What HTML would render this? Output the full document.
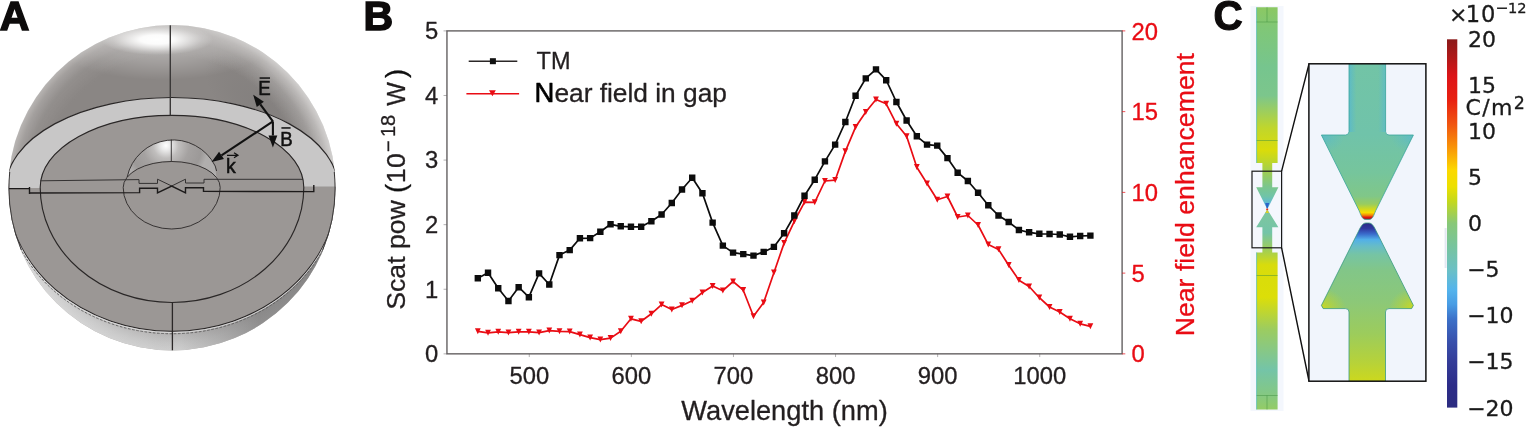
<!DOCTYPE html>
<html lang="en">
<head>
<meta charset="utf-8">
<title>Figure: nanoantenna scattering and near field</title>
<style>
html,body{margin:0;padding:0;background:#fff;}
body{width:1528px;height:427px;overflow:hidden;font-family:"Liberation Sans",sans-serif;}
svg{display:block;position:absolute;left:0;top:0;}
text{font-family:"Liberation Sans",sans-serif;}
.dj{font-family:"DejaVu Sans","Liberation Sans",sans-serif;}
.pl{font-weight:bold;font-size:41px;fill:#0d0b0b;stroke:#0d0b0b;stroke-width:1.5px;stroke-linejoin:miter;}
.tk{font-size:23.8px;fill:#231f20;}
#panelB text{stroke-width:0.3px;stroke-linejoin:round;}
#panelB text.k{stroke:#231f20;}
#panelB text.r{stroke:#e90c14;}
.tr{font-size:23.8px;fill:#e90c14;}
.cb{font-size:22px;fill:#1a1a1a;}
</style>
</head>
<body>
<svg width="1528" height="427" viewBox="0 0 1528 427">
<defs>
<radialGradient id="dome" gradientUnits="userSpaceOnUse" cx="172" cy="187.8" r="163.2">
<stop offset="0" stop-color="#8a8684"/>
<stop offset="0.8" stop-color="#8a8684"/>
<stop offset="0.9" stop-color="#8e8a88"/>
<stop offset="0.96" stop-color="#9c9896"/>
<stop offset="1" stop-color="#b0adab"/>
</radialGradient>
<radialGradient id="hl" cx="0.5" cy="0.5" r="0.5">
<stop offset="0" stop-color="#fff" stop-opacity="1"/>
<stop offset="0.3" stop-color="#fff" stop-opacity="0.95"/>
<stop offset="0.55" stop-color="#fff" stop-opacity="0.6"/>
<stop offset="0.8" stop-color="#fff" stop-opacity="0.22"/>
<stop offset="1" stop-color="#fff" stop-opacity="0"/>
</radialGradient>
<radialGradient id="rl" gradientUnits="userSpaceOnUse" cx="172" cy="187.8" r="163.2">
<stop offset="0.8" stop-color="#fff" stop-opacity="0"/>
<stop offset="0.9" stop-color="#fff" stop-opacity="0.17"/>
<stop offset="1" stop-color="#fff" stop-opacity="0.42"/>
</radialGradient>
<linearGradient id="rlm" gradientUnits="userSpaceOnUse" x1="150" y1="0" x2="270" y2="0">
<stop offset="0" stop-color="#fff" stop-opacity="0.25"/>
<stop offset="1" stop-color="#fff" stop-opacity="1"/>
</linearGradient>
<mask id="rlmask" maskUnits="userSpaceOnUse" x="0" y="0" width="345" height="190"><rect x="0" y="0" width="345" height="190" fill="url(#rlm)"/></mask>
<radialGradient id="hl2" cx="0.5" cy="0.5" r="0.5">
<stop offset="0" stop-color="#fff" stop-opacity="0.38"/>
<stop offset="0.5" stop-color="#fff" stop-opacity="0.2"/>
<stop offset="1" stop-color="#fff" stop-opacity="0"/>
</radialGradient>
<radialGradient id="dk" cx="0.5" cy="0.5" r="0.5">
<stop offset="0" stop-color="#6c6a6a" stop-opacity="0.3"/>
<stop offset="0.5" stop-color="#6c6a6a" stop-opacity="0.18"/>
<stop offset="1" stop-color="#6c6a6a" stop-opacity="0"/>
</radialGradient>
<radialGradient id="sdome" gradientUnits="userSpaceOnUse" cx="166" cy="145.5" r="42">
<stop offset="0" stop-color="#ffffff"/>
<stop offset="0.12" stop-color="#e9e9e9"/>
<stop offset="0.3" stop-color="#c0bebd"/>
<stop offset="0.55" stop-color="#a5a2a1"/>
<stop offset="0.85" stop-color="#9c9998"/>
<stop offset="1" stop-color="#b0aead"/>
</radialGradient>
<radialGradient id="rim" gradientUnits="userSpaceOnUse" cx="172" cy="187.8" r="163.4">
<stop offset="0" stop-color="#9a9898"/>
<stop offset="0.86" stop-color="#adabab"/>
<stop offset="0.9" stop-color="#b8b7b7"/>
<stop offset="0.95" stop-color="#c5c5c5"/>
<stop offset="1" stop-color="#cfcfcf"/>
</radialGradient>
<linearGradient id="rimlr" x1="0" y1="0" x2="1" y2="0">
<stop offset="0" stop-color="#fff" stop-opacity="0.22"/>
<stop offset="0.42" stop-color="#fff" stop-opacity="0.04"/>
<stop offset="0.52" stop-color="#5a5858" stop-opacity="0"/>
<stop offset="0.64" stop-color="#5a5858" stop-opacity="0.25"/>
<stop offset="0.75" stop-color="#545252" stop-opacity="0.5"/>
<stop offset="1" stop-color="#504e4e" stop-opacity="0.6"/>
</linearGradient>
<clipPath id="sph"><ellipse cx="172" cy="187.8" rx="163.6" ry="162.7"/></clipPath>
<clipPath id="upper"><rect x="0" y="0" width="345" height="188"/></clipPath>
<linearGradient id="cbar" x1="0" y1="0" x2="0" y2="1">
<stop offset="0" stop-color="#8a1a1a"/>
<stop offset="0.05" stop-color="#b01818"/>
<stop offset="0.1" stop-color="#dc1418"/>
<stop offset="0.165" stop-color="#e82010"/>
<stop offset="0.23" stop-color="#f05410"/>
<stop offset="0.29" stop-color="#f89008"/>
<stop offset="0.355" stop-color="#fcd800"/>
<stop offset="0.4" stop-color="#ece000"/>
<stop offset="0.44" stop-color="#c4d81c"/>
<stop offset="0.5" stop-color="#88c878"/>
<stop offset="0.56" stop-color="#78c49c"/>
<stop offset="0.625" stop-color="#6cc0c4"/>
<stop offset="0.68" stop-color="#54b4ec"/>
<stop offset="0.72" stop-color="#489ce4"/>
<stop offset="0.76" stop-color="#3c70c8"/>
<stop offset="0.82" stop-color="#3850ac"/>
<stop offset="0.875" stop-color="#343c98"/>
<stop offset="0.94" stop-color="#2c2c88"/>
<stop offset="1" stop-color="#2c2c80"/>
</linearGradient>
<linearGradient id="strip" x1="0" y1="7" x2="0" y2="410" gradientUnits="userSpaceOnUse">
<stop offset="0" stop-color="#8cc862"/>
<stop offset="0.05" stop-color="#80c776"/>
<stop offset="0.15" stop-color="#76c58e"/>
<stop offset="0.22" stop-color="#7cc68c"/>
<stop offset="0.3" stop-color="#c0d62c"/>
<stop offset="0.355" stop-color="#dadc0a"/>
<stop offset="0.385" stop-color="#bcd62c"/>
<stop offset="0.415" stop-color="#98cc5c"/>
<stop offset="0.445" stop-color="#7cc68c"/>
<stop offset="0.47" stop-color="#70c4a8"/>
<stop offset="0.49" stop-color="#5cb6dc"/>
<stop offset="0.515" stop-color="#7cc6a0"/>
<stop offset="0.56" stop-color="#74c4a8"/>
<stop offset="0.6" stop-color="#9ccd5c"/>
<stop offset="0.64" stop-color="#d8dc0c"/>
<stop offset="0.72" stop-color="#dcde08"/>
<stop offset="0.8" stop-color="#9ccc60"/>
<stop offset="0.9" stop-color="#74c4a8"/>
<stop offset="0.96" stop-color="#84c884"/>
<stop offset="1" stop-color="#94cc64"/>
</linearGradient>
<linearGradient id="itop" x1="0" y1="64" x2="0" y2="219.6" gradientUnits="userSpaceOnUse">
<stop offset="0" stop-color="#72c4a6"/>
<stop offset="0.45" stop-color="#70c3aa"/>
<stop offset="0.7" stop-color="#76c59c"/>
<stop offset="0.85" stop-color="#80c788"/>
<stop offset="0.9" stop-color="#98cc60"/>
<stop offset="0.93" stop-color="#ccd824"/>
<stop offset="0.955" stop-color="#f8de00"/>
<stop offset="0.972" stop-color="#f08808"/>
<stop offset="0.985" stop-color="#e21814"/>
<stop offset="1" stop-color="#901818"/>
</linearGradient>
<linearGradient id="ibot" x1="0" y1="223" x2="0" y2="381" gradientUnits="userSpaceOnUse">
<stop offset="0" stop-color="#2a2a86"/>
<stop offset="0.035" stop-color="#3038a0"/>
<stop offset="0.07" stop-color="#3a6ccc"/>
<stop offset="0.105" stop-color="#52b0e8"/>
<stop offset="0.145" stop-color="#66bcc8"/>
<stop offset="0.2" stop-color="#76c4a4"/>
<stop offset="0.3" stop-color="#82c688"/>
<stop offset="0.5" stop-color="#8cc878"/>
<stop offset="0.7" stop-color="#9ccc5c"/>
<stop offset="0.88" stop-color="#b6d23a"/>
<stop offset="1" stop-color="#ccd81e"/>
</linearGradient>
<linearGradient id="iedge" x1="1349" y1="0" x2="1385.6" y2="0" gradientUnits="userSpaceOnUse">
<stop offset="0" stop-color="#4cb4e0" stop-opacity="0.55"/>
<stop offset="0.2" stop-color="#4cb4e0" stop-opacity="0"/>
<stop offset="0.8" stop-color="#4cb4e0" stop-opacity="0"/>
<stop offset="1" stop-color="#4cb4e0" stop-opacity="0.45"/>
</linearGradient>
<radialGradient id="bcorn" cx="0.5" cy="0.5" r="0.5">
<stop offset="0" stop-color="#4cb4e0" stop-opacity="0.45"/>
<stop offset="0.5" stop-color="#4cb4e0" stop-opacity="0.2"/>
<stop offset="1" stop-color="#4cb4e0" stop-opacity="0"/>
</radialGradient>
<radialGradient id="ycorn" cx="0.5" cy="0.5" r="0.5">
<stop offset="0" stop-color="#d8dc10" stop-opacity="0.9"/>
<stop offset="0.5" stop-color="#c8d820" stop-opacity="0.45"/>
<stop offset="1" stop-color="#c8d820" stop-opacity="0"/>
</radialGradient>
<clipPath id="atop"><path d="M1349,60 H1385.6 V131.5 Q1385.5,135 1389,135 H1413.4 L1375.8,210.5 C1373.8,215 1372.8,219.4 1369.3,219.4 H1365.5 C1362,219.4 1361,215 1359,210.5 L1321.4,135 H1345.5 Q1349,135 1349,131.5 Z"/></clipPath>
<clipPath id="abot"><path d="M1368.8,223 C1372.3,223 1374.3,227 1376.7,232.1 L1413.4,305.4 L1411.6,308.6 H1389 Q1385.5,308.6 1385.5,312 V385 H1349 V312 Q1349,308.6 1345.5,308.6 H1323.2 L1321.4,305.4 L1358.1,232.1 C1360.5,227 1362.5,223 1366,223 Z"/></clipPath>
<clipPath id="inset"><rect x="1309.3" y="64" width="116.4" height="317"/></clipPath>
</defs>
<text class="pl" x="-0.2" y="30">A</text>
<g id="panelA">
<ellipse cx="172" cy="187.8" rx="163.6" ry="162.7" fill="url(#dome)"/>
<g clip-path="url(#sph)">
<ellipse cx="162" cy="46" rx="105" ry="34" fill="url(#hl2)"/>
<ellipse cx="262" cy="105" rx="70" ry="32" fill="url(#dk)" transform="rotate(40 262 105)" opacity="0.7"/>
<rect x="0" y="0" width="345" height="188" fill="url(#rl)" mask="url(#rlmask)"/>
<ellipse cx="157" cy="39.5" rx="56" ry="15.5" fill="url(#hl)"/>
<rect x="0" y="187" width="345" height="170" fill="url(#rim)"/>
<rect x="0" y="187" width="345" height="170" fill="url(#rimlr)"/>
<path d="M6.5,187.5 A165.5,90.2 0 0 1 337.5,187.5 A165.5,143.8 0 0 1 6.5,187.5 Z" fill="#9b9795"/>
<path fill-rule="evenodd" fill="#c8c7c7" d="M6,188 A166,90 0 0 1 338,186.5 L303.8,186.5 A131.8,72.2 0 0 0 40.2,188 Z"/>
</g>
<g fill="none" stroke="#2a2727" stroke-width="1.15" clip-path="url(#sph)">
<path d="M6,187.5 A166,90 0 0 1 338,187.5"/>
<path d="M6.5,187.5 A165.5,143.8 0 0 0 337.5,187.5" stroke-width="1.1"/>
<path d="M5.8,187.5 A166.2,145.1 0 0 0 338.2,187.5" stroke-width="0.9" stroke="#dcdcdc"/>
<path d="M5.2,187.5 A166.8,146.3 0 0 0 338.8,187.5" stroke-width="0.9" stroke="#5e5c5c" stroke-dasharray="2.6 1.6"/>
<path d="M40.2,187.5 A131.8,72.2 0 0 1 303.8,187.5 A131.8,115 0 0 1 40.2,187.5 Z"/>
<path d="M170.3,25.3 V115.3" stroke-width="1.4" stroke="#3a3838"/>
<path d="M9.6,172 A163.2,162.3 0 0 0 21.2,250 M334.4,172 A163.2,162.3 0 0 1 322.8,250" stroke-width="1.3" stroke="#3a3838"/>
<path d="M172.4,302.5 V350.4" stroke-width="1.3"/>
</g>
<path d="M127.2,177 A47,47 0 0 1 215.2,166 L216.3,177 A48.5,26 0 0 0 127.2,177 Z" fill="url(#sdome)"/>
<g fill="none" stroke="#2a2727" stroke-width="0.9">
<path d="M127.2,177 A47,47 0 0 1 215.2,166 L216.6,171"/>
<path d="M123.2,187.5 A48.5,26 0 0 1 220.2,187.5 A48.5,41.5 0 0 1 123.2,187.5 Z"/>
<path d="M171.3,139.5 V161.6"/>
<path stroke-width="1" stroke="#343232" d="M40.5,180.8 L139,179.6 V183.4 H157.5 V179.2 L171.7,186 L185.5,179.2 V183 H204 V179.3 L303,179.3"/>
<path stroke-width="1.4" stroke="#1c1a1a" d="M9,188.6 H29.5 M29.5,187 V194 M29.5,193 L139.6,192.6 V188.2 H157.5 V192.9 L171.7,186 L185.5,192.9 V187.8 H203.5 V191.3 L314,191.6 M313.8,185 V192.3"/>
</g>
<g stroke="#111" stroke-width="2.1" fill="#111">
<path d="M272.9,121.4 L260.32,104.36" fill="none"/><path stroke="none" d="M253.2,94.7 L263.87,101.74 L256.78,106.97 Z"/>
<path d="M272.9,121.4 L272.9,135.5" fill="none"/><path stroke="none" d="M272.9,147.5 L268.5,135.5 L277.3,135.5 Z"/>
<path d="M272.9,121.4 L221.51,155.38" fill="none"/><path stroke="none" d="M211.5,162 L219.08,151.71 L223.94,159.05 Z"/>
</g>
<g fill="#111" font-size="21px" stroke="#111" stroke-width="0.55">
<text transform="translate(258.2,95.4) scale(0.89,1)">E</text><rect x="259.6" y="77.3" width="10.4" height="1.5" stroke="none"/>
<text transform="translate(280.2,145.6) scale(0.89,1)">B</text><rect x="281.4" y="127.2" width="9.2" height="1.5" stroke="none"/>
<text transform="translate(226,172.8) scale(0.93,1)">k</text><path d="M227,155.3 H237.5 M234,152.8 L238,155.3 L234,157.8" stroke="#111" stroke-width="1.2" fill="none"/>
</g>
</g>
<text class="pl" x="363.4" y="30">B</text>
<g id="panelB">
<rect x="446.95" y="30.9" width="675.15" height="322.95" fill="none" stroke="#5f5b5c" stroke-width="1.35"/>
<path d="M446.95,30.9 h-3.4 M446.95,95.49 h-3.4 M446.95,160.08 h-3.4 M446.95,224.67 h-3.4 M446.95,289.26 h-3.4 M446.95,353.85 h-3.4 M529.27,353.85 v3.2 M631.36,353.85 v3.2 M733.46,353.85 v3.2 M835.55,353.85 v3.2 M937.65,353.85 v3.2 M1039.74,353.85 v3.2" stroke="#5f5b5c" stroke-width="0.8" fill="none" opacity="0.6"/>
<path d="M1122.1,30.9 h3.2 M1122.1,111.64 h3.2 M1122.1,192.38 h3.2 M1122.1,273.11 h3.2 M1122.1,353.85 h3.2" stroke="#e90c14" stroke-width="1" fill="none" opacity="0.7"/>
<text class="tk k" text-anchor="end" x="438.2" y="39.3">5</text>
<text class="tk k" text-anchor="end" x="438.2" y="103.89">4</text>
<text class="tk k" text-anchor="end" x="438.2" y="168.48">3</text>
<text class="tk k" text-anchor="end" x="438.2" y="233.07">2</text>
<text class="tk k" text-anchor="end" x="438.2" y="297.66">1</text>
<text class="tk k" text-anchor="end" x="438.2" y="362.25">0</text>
<text class="tk k" text-anchor="middle" x="529.27" y="384.3">500</text>
<text class="tk k" text-anchor="middle" x="631.36" y="384.3">600</text>
<text class="tk k" text-anchor="middle" x="733.46" y="384.3">700</text>
<text class="tk k" text-anchor="middle" x="835.55" y="384.3">800</text>
<text class="tk k" text-anchor="middle" x="937.65" y="384.3">900</text>
<text class="tk k" text-anchor="middle" x="1039.74" y="384.3">1000</text>
<text class="tr r" x="1131.6" y="39.5">20</text>
<text class="tr r" x="1131.6" y="120.24">15</text>
<text class="tr r" x="1131.6" y="200.98">10</text>
<text class="tr r" x="1131.6" y="281.71">5</text>
<text class="tr r" x="1131.6" y="362.45">0</text>
<text class="k" x="784.5" y="420" text-anchor="middle" font-size="27.25px" fill="#231f20">Wavelength (nm)</text>
<text class="k" transform="translate(405.3,308.5) rotate(-90)" fill="#231f20" font-size="26.6px"><tspan x="-1.2" y="0">Scat pow </tspan><tspan x="115.6" y="-0.3" font-size="27.5px" fill="#111" stroke="#111">(</tspan><tspan x="125.2 140.4" y="0">10</tspan><tspan x="156.6 171.5 182.6" y="-10" font-size="20px">−18</tspan><tspan x="196" y="0"> </tspan><tspan x="202.7" y="0" font-size="25px">W</tspan><tspan x="230.6" y="-0.3" font-size="27.5px" fill="#111" stroke="#111">)</tspan></text>
<text class="r" transform="translate(1193.9,194.7) rotate(-90)" text-anchor="middle" font-size="26.7px" fill="#e90c14">Near field enhancement</text>
<path d="M468.7,61.2 H517.3" stroke="#2b2727" stroke-width="1.5"/><rect x="489.9" y="58.2" width="6" height="6" fill="#111"/>
<text class="k" x="536.6" y="69.3" font-size="23.5px" fill="#231f20">TM</text>
<path d="M466.4,93.7 H519.1" stroke="#e90c14" stroke-width="1.5"/><path d="M489,90.2 h6.8 l-3.4,6 Z" fill="#e90c14"/>
<text class="k" x="534.5" y="101.9" font-size="26.3px" fill="#231f20"><tspan font-size="27.5px" fill="#000" stroke="#000" stroke-width="0.6">N</tspan>ear field in gap</text>
<path d="M477.82,331.3 L488.03,332.8 L498.24,331.8 L508.45,332.6 L518.66,331.8 L528.87,331.8 L539.08,332.6 L549.29,330.6 L559.5,331.3 L569.71,331.6 L579.92,334.6 L590.13,337.6 L600.34,339.6 L610.55,338.1 L620.75,331.3 L630.96,318.8 L641.17,321.3 L651.38,313.8 L661.59,304.6 L671.8,309.5 L682.01,305.4 L692.22,300.8 L702.43,292.5 L712.64,286 L722.85,290.7 L733.06,281.5 L743.27,290.2 L753.48,316.3 L763.69,302.5 L773.9,272.7 L784.11,243.1 L794.31,221.3 L804.52,202.2 L814.73,202.4 L824.94,181 L835.15,180.2 L845.36,151.4 L855.57,127.1 L865.78,112 L875.99,99.5 L886.2,103.8 L896.41,123.8 L906.62,136.3 L916.83,167.2 L927.04,183.5 L937.25,199.8 L947.46,196.5 L957.66,217 L967.87,215.5 L978.08,225 L988.29,244.6 L998.5,249.4 L1008.71,265.2 L1018.92,280.2 L1029.13,286.5 L1039.34,297.7 L1049.55,307 L1059.76,312 L1069.97,318.8 L1080.18,323.8 L1090.39,326.3" fill="none" stroke="#e90c14" stroke-width="1.7" stroke-linejoin="round"/>
<path d="M474.92,328.2h5.8l-2.9,6ZM485.13,329.7h5.8l-2.9,6ZM495.34,328.7h5.8l-2.9,6ZM505.55,329.5h5.8l-2.9,6ZM515.76,328.7h5.8l-2.9,6ZM525.97,328.7h5.8l-2.9,6ZM536.18,329.5h5.8l-2.9,6ZM546.39,327.5h5.8l-2.9,6ZM556.6,328.2h5.8l-2.9,6ZM566.81,328.5h5.8l-2.9,6ZM577.02,331.5h5.8l-2.9,6ZM587.23,334.5h5.8l-2.9,6ZM597.44,336.5h5.8l-2.9,6ZM607.65,335h5.8l-2.9,6ZM617.85,328.2h5.8l-2.9,6ZM628.06,315.7h5.8l-2.9,6ZM638.27,318.2h5.8l-2.9,6ZM648.48,310.7h5.8l-2.9,6ZM658.69,301.5h5.8l-2.9,6ZM668.9,306.4h5.8l-2.9,6ZM679.11,302.3h5.8l-2.9,6ZM689.32,297.7h5.8l-2.9,6ZM699.53,289.4h5.8l-2.9,6ZM709.74,282.9h5.8l-2.9,6ZM719.95,287.6h5.8l-2.9,6ZM730.16,278.4h5.8l-2.9,6ZM740.37,287.1h5.8l-2.9,6ZM750.58,313.2h5.8l-2.9,6ZM760.79,299.4h5.8l-2.9,6ZM771,269.6h5.8l-2.9,6ZM781.21,240h5.8l-2.9,6ZM791.41,218.2h5.8l-2.9,6ZM801.62,199.1h5.8l-2.9,6ZM811.83,199.3h5.8l-2.9,6ZM822.04,177.9h5.8l-2.9,6ZM832.25,177.1h5.8l-2.9,6ZM842.46,148.3h5.8l-2.9,6ZM852.67,124h5.8l-2.9,6ZM862.88,108.9h5.8l-2.9,6ZM873.09,96.4h5.8l-2.9,6ZM883.3,100.7h5.8l-2.9,6ZM893.51,120.7h5.8l-2.9,6ZM903.72,133.2h5.8l-2.9,6ZM913.93,164.1h5.8l-2.9,6ZM924.14,180.4h5.8l-2.9,6ZM934.35,196.7h5.8l-2.9,6ZM944.56,193.4h5.8l-2.9,6ZM954.76,213.9h5.8l-2.9,6ZM964.97,212.4h5.8l-2.9,6ZM975.18,221.9h5.8l-2.9,6ZM985.39,241.5h5.8l-2.9,6ZM995.6,246.3h5.8l-2.9,6ZM1005.81,262.1h5.8l-2.9,6ZM1016.02,277.1h5.8l-2.9,6ZM1026.23,283.4h5.8l-2.9,6ZM1036.44,294.6h5.8l-2.9,6ZM1046.65,303.9h5.8l-2.9,6ZM1056.86,308.9h5.8l-2.9,6ZM1067.07,315.7h5.8l-2.9,6ZM1077.28,320.7h5.8l-2.9,6ZM1087.49,323.2h5.8l-2.9,6Z" fill="#e90c14"/>
<path d="M477.82,278.2 L488.03,272.7 L498.24,288.2 L508.45,301 L518.66,287.2 L528.87,297.2 L539.08,273.4 L549.29,284.5 L559.5,255.1 L569.71,250.1 L579.92,238.3 L590.13,238.1 L600.34,231.8 L610.55,224.3 L620.75,226.3 L630.96,226.8 L641.17,226.8 L651.38,221.3 L661.59,214.5 L671.8,203 L682.01,189.5 L692.22,177.7 L702.43,193.3 L712.64,222.6 L722.85,245.6 L733.06,252.6 L743.27,254.1 L753.48,255.6 L763.69,251.9 L773.9,246.9 L784.11,233.3 L794.31,215.5 L804.52,195.7 L814.73,179.7 L824.94,161.4 L835.15,144.6 L845.36,122 L855.57,95.7 L865.78,78.4 L875.99,69.4 L886.2,80.2 L896.41,102 L906.62,120.5 L916.83,136.3 L927.04,144.6 L937.25,145.6 L947.46,158.1 L957.66,172.7 L967.87,181 L978.08,192.7 L988.29,205.3 L998.5,215.5 L1008.71,222 L1018.92,230 L1029.13,232.3 L1039.34,233.8 L1049.55,234 L1059.76,234.5 L1069.97,236.8 L1080.18,236 L1090.39,235.6" fill="none" stroke="#0c0c0c" stroke-width="1.7" stroke-linejoin="round"/>
<path d="M474.62,275h6.4v6.4h-6.4ZM484.83,269.5h6.4v6.4h-6.4ZM495.04,285h6.4v6.4h-6.4ZM505.25,297.8h6.4v6.4h-6.4ZM515.46,284h6.4v6.4h-6.4ZM525.67,294h6.4v6.4h-6.4ZM535.88,270.2h6.4v6.4h-6.4ZM546.09,281.3h6.4v6.4h-6.4ZM556.3,251.9h6.4v6.4h-6.4ZM566.51,246.9h6.4v6.4h-6.4ZM576.72,235.1h6.4v6.4h-6.4ZM586.93,234.9h6.4v6.4h-6.4ZM597.14,228.6h6.4v6.4h-6.4ZM607.35,221.1h6.4v6.4h-6.4ZM617.55,223.1h6.4v6.4h-6.4ZM627.76,223.6h6.4v6.4h-6.4ZM637.97,223.6h6.4v6.4h-6.4ZM648.18,218.1h6.4v6.4h-6.4ZM658.39,211.3h6.4v6.4h-6.4ZM668.6,199.8h6.4v6.4h-6.4ZM678.81,186.3h6.4v6.4h-6.4ZM689.02,174.5h6.4v6.4h-6.4ZM699.23,190.1h6.4v6.4h-6.4ZM709.44,219.4h6.4v6.4h-6.4ZM719.65,242.4h6.4v6.4h-6.4ZM729.86,249.4h6.4v6.4h-6.4ZM740.07,250.9h6.4v6.4h-6.4ZM750.28,252.4h6.4v6.4h-6.4ZM760.49,248.7h6.4v6.4h-6.4ZM770.7,243.7h6.4v6.4h-6.4ZM780.9,230.1h6.4v6.4h-6.4ZM791.11,212.3h6.4v6.4h-6.4ZM801.32,192.5h6.4v6.4h-6.4ZM811.53,176.5h6.4v6.4h-6.4ZM821.74,158.2h6.4v6.4h-6.4ZM831.95,141.4h6.4v6.4h-6.4ZM842.16,118.8h6.4v6.4h-6.4ZM852.37,92.5h6.4v6.4h-6.4ZM862.58,75.2h6.4v6.4h-6.4ZM872.79,66.2h6.4v6.4h-6.4ZM883,77h6.4v6.4h-6.4ZM893.21,98.8h6.4v6.4h-6.4ZM903.42,117.3h6.4v6.4h-6.4ZM913.63,133.1h6.4v6.4h-6.4ZM923.84,141.4h6.4v6.4h-6.4ZM934.05,142.4h6.4v6.4h-6.4ZM944.26,154.9h6.4v6.4h-6.4ZM954.46,169.5h6.4v6.4h-6.4ZM964.67,177.8h6.4v6.4h-6.4ZM974.88,189.5h6.4v6.4h-6.4ZM985.09,202.1h6.4v6.4h-6.4ZM995.3,212.3h6.4v6.4h-6.4ZM1005.51,218.8h6.4v6.4h-6.4ZM1015.72,226.8h6.4v6.4h-6.4ZM1025.93,229.1h6.4v6.4h-6.4ZM1036.14,230.6h6.4v6.4h-6.4ZM1046.35,230.8h6.4v6.4h-6.4ZM1056.56,231.3h6.4v6.4h-6.4ZM1066.77,233.6h6.4v6.4h-6.4ZM1076.98,232.8h6.4v6.4h-6.4ZM1087.19,232.4h6.4v6.4h-6.4Z" fill="#0c0c0c"/>
</g>
<text class="pl" transform="translate(1213.6,30.4) scale(0.94,1)" style="font-size:43px;stroke-width:1.2px">C</text>
<g id="panelC">
<rect x="1250.5" y="6" width="33" height="405" fill="#f4f7fd"/>
<path d="M1256.6,7.3 H1277.6 V163 H1272.2 V187.3 H1278.4 L1267.7,208.6 H1266.9 L1256.2,187.3 H1262.4 V163 H1256.6 Z M1267.7,210 L1278.4,227.3 H1272.2 V252.6 H1277.6 V409.5 H1256.6 V252.6 H1262.4 V227.3 H1256.2 L1266.9,210 Z" fill="url(#strip)"/>
<path d="M1256.6,7.3 V163 M1256.6,252.4 V409.5" stroke="#3cb4b0" stroke-width="0.8" fill="none" opacity="0.8"/>
<path d="M1265.2,203 L1269.2,203 L1267.6,208.6 H1266.8 Z" fill="#2c64c8"/>
<rect x="1266.2" y="208.6" width="2" height="1.6" fill="#e83010"/>
<path d="M1266.8,210.2 H1267.6 L1269,213 H1265.4 Z" fill="#e0d020"/>
<path d="M1256.6,22 H1277.6 M1267,7.3 V22 M1256.6,140.5 H1277.6 M1256.6,275.5 H1277.6 M1256.6,395.5 H1277.6 M1267,395.5 V409.5" stroke="#3f8f3f" stroke-width="0.6" fill="none" opacity="0.8"/>
<rect x="1252" y="171.2" width="29.6" height="76.6" fill="none" stroke="#1a1a1a" stroke-width="1.2"/>
<path d="M1281.6,171.2 L1309,64 M1281.6,247.8 L1309,381" stroke="#111" stroke-width="1.4" fill="none"/>
<rect x="1308.9" y="63.8" width="117" height="317.4" fill="#f1f5fc"/>
<g clip-path="url(#inset)">
<path d="M1349,60 H1385.6 V131.5 Q1385.5,135 1389,135 H1413.4 L1375.8,210.5 C1373.8,215 1372.8,219.4 1369.3,219.4 H1365.5 C1362,219.4 1361,215 1359,210.5 L1321.4,135 H1345.5 Q1349,135 1349,131.5 Z" fill="url(#itop)"/>
<g clip-path="url(#atop)"><rect x="1349" y="60" width="36.6" height="72" fill="url(#iedge)"/><ellipse cx="1324" cy="137" rx="20" ry="16" fill="url(#bcorn)"/><ellipse cx="1411" cy="137" rx="20" ry="16" fill="url(#bcorn)"/></g>
<path d="M1349,60 H1385.6 V131.5 Q1385.5,135 1389,135 H1413.4 L1375.8,210.5 C1373.8,215 1372.8,219.4 1369.3,219.4 H1365.5 C1362,219.4 1361,215 1359,210.5 L1321.4,135 H1345.5 Q1349,135 1349,131.5 Z" fill="none" stroke="#3aa49c" stroke-width="0.8"/>
<path d="M1368.8,223 C1372.3,223 1374.3,227 1376.7,232.1 L1413.4,305.4 L1411.6,308.6 H1389 Q1385.5,308.6 1385.5,312 V385 H1349 V312 Q1349,308.6 1345.5,308.6 H1323.2 L1321.4,305.4 L1358.1,232.1 C1360.5,227 1362.5,223 1366,223 Z" fill="url(#ibot)"/>
<g clip-path="url(#abot)"><ellipse cx="1320" cy="308" rx="26" ry="20" fill="url(#ycorn)"/><ellipse cx="1415" cy="308" rx="26" ry="20" fill="url(#ycorn)"/></g>
<path d="M1368.8,223 C1372.3,223 1374.3,227 1376.7,232.1 L1413.4,305.4 L1411.6,308.6 H1389 Q1385.5,308.6 1385.5,312 V385 H1349 V312 Q1349,308.6 1345.5,308.6 H1323.2 L1321.4,305.4 L1358.1,232.1 C1360.5,227 1362.5,223 1366,223 Z" fill="none" stroke="#3a9a80" stroke-width="0.8"/>
</g>
<rect x="1308.9" y="63.8" width="117" height="317.4" fill="none" stroke="#111" stroke-width="1.5"/>
<rect x="1447" y="39.3" width="10.3" height="368.3" fill="url(#cbar)"/>
<rect x="1444.6" y="228" width="2" height="40" fill="#e4e8f2"/>
<g class="dj" stroke="#1a1a1a" stroke-width="0.3">
<text class="cb dj" x="1449.1" y="22.2">×<tspan dx="-1.9" font-size="22.6px" letter-spacing="1.1">10</tspan><tspan font-size="15.5px" dx="-0.9" dy="-8.8">−<tspan font-size="14.6px" dx="-0.6">12</tspan></tspan></text>
<text class="cb dj" x="1467.9" y="47.3">20</text>
<text class="cb dj" x="1467.9" y="93.32">15</text>
<text class="cb dj" x="1467.9" y="139.35">10</text>
<text class="cb dj" x="1467.9" y="185.38">5</text>
<text class="cb dj" x="1467.9" y="231.4">0</text>
<text class="cb dj" x="1467.2" y="277.43">−5</text>
<text class="cb dj" x="1467.2" y="323.45">−10</text>
<text class="cb dj" x="1467.2" y="369.48">−15</text>
<text class="cb dj" x="1467.2" y="415.5">−20</text>
<text class="cb dj" x="1465.6" y="115.4" letter-spacing="1.3">C/m<tspan font-size="17.5px" dy="-6.6">2</tspan></text>
</g>
</g>
</svg>
</body>
</html>
